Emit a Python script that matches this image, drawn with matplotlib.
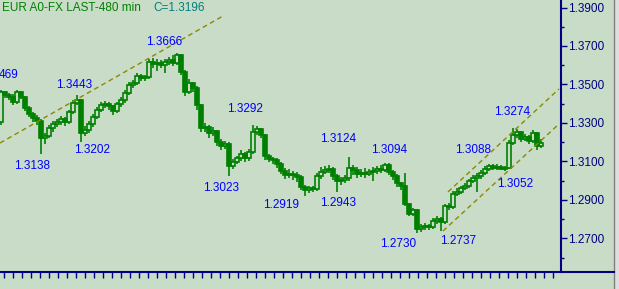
import numpy as np
import matplotlib
matplotlib.use('Agg')
from matplotlib import pyplot as plt
from matplotlib.patches import Rectangle

plot_filename = 'out.png'

W, H = 619, 289
bg = '#c8dcc8'
green = '#008000'
navy = '#000080'

title = 'EUR A0-FX LAST-480 min'
last_label = 'C=1.3196'

first_open = 1.3305
closes = [
    1.3461, 1.3445, 1.3435, 1.3409, 1.3461, 1.3435, 1.3377, 1.3346, 1.3325, 1.3310,
    1.3221, 1.3232, 1.3273, 1.3294, 1.3305, 1.3320, 1.3305, 1.3357, 1.3403, 1.3419,
    1.3247, 1.3263, 1.3294, 1.3331, 1.3367, 1.3393, 1.3398, 1.3388, 1.3362, 1.3398,
    1.3419, 1.3455, 1.3497, 1.3507, 1.3544, 1.3533, 1.3539, 1.3617, 1.3606, 1.3611,
    1.3601, 1.3617, 1.3627, 1.3611, 1.3653, 1.3565, 1.3461, 1.3507, 1.3481, 1.3393,
    1.3273, 1.3279, 1.3247, 1.3258, 1.3201, 1.3180, 1.3190, 1.3076, 1.3097, 1.3117,
    1.3138, 1.3117, 1.3149, 1.3253, 1.3268, 1.3237, 1.3128, 1.3112, 1.3107, 1.3086,
    1.3050, 1.3029, 1.3034, 1.3029, 1.3019, 1.2967, 1.2951, 1.2961, 1.2956, 1.3024,
    1.3045, 1.3055, 1.3060, 1.3024, 1.2998, 1.3003, 1.3013, 1.3065, 1.3055, 1.3034,
    1.3039, 1.3034, 1.3045, 1.3050, 1.3060, 1.3055, 1.3081, 1.3045, 1.3024, 1.2987,
    1.2972, 1.2878, 1.2826, 1.2847, 1.2748, 1.2759, 1.2764, 1.2759, 1.2790, 1.2800,
    1.2785, 1.2868, 1.2863, 1.2930, 1.2941, 1.2961, 1.2972, 1.2998, 1.3013, 1.3024,
    1.3039, 1.3060, 1.3076, 1.3066, 1.3071, 1.3060, 1.3066, 1.3195, 1.3237, 1.3253,
    1.3216, 1.3227, 1.3206, 1.3247, 1.3180, 1.3196,
]
highs = [
    1.3469, 1.3466, 1.3458, 1.3450, 1.3469, 1.3466, 1.3440, 1.3390, 1.3355, 1.3340,
    1.3320, 1.3250, 1.3290, 1.3310, 1.3320, 1.3335, 1.3330, 1.3370, 1.3420, 1.3443,
    1.3425, 1.3285, 1.3310, 1.3345, 1.3385, 1.3410, 1.3415, 1.3410, 1.3395, 1.3410,
    1.3435, 1.3470, 1.3515, 1.3525, 1.3560, 1.3555, 1.3550, 1.3630, 1.3640, 1.3630,
    1.3625, 1.3635, 1.3645, 1.3655, 1.3666, 1.3660, 1.3575, 1.3530, 1.3515, 1.3490,
    1.3400, 1.3300, 1.3290, 1.3280, 1.3265, 1.3215, 1.3205, 1.3200, 1.3115, 1.3130,
    1.3160, 1.3150, 1.3165, 1.3292, 1.3285, 1.3275, 1.3245, 1.3140, 1.3125, 1.3120,
    1.3095, 1.3065, 1.3060, 1.3050, 1.3045, 1.3030, 1.2980, 1.2975, 1.2975, 1.3040,
    1.3070, 1.3075, 1.3080, 1.3070, 1.3035, 1.3020, 1.3030, 1.3124, 1.3080, 1.3070,
    1.3060, 1.3065, 1.3060, 1.3070, 1.3075, 1.3080, 1.3094, 1.3090, 1.3055, 1.3035,
    1.2995, 1.3040, 1.2885, 1.2860, 1.2855, 1.2775, 1.2780, 1.2775, 1.2805, 1.2815,
    1.2810, 1.2880, 1.2885, 1.2945, 1.2960, 1.2975, 1.2990, 1.3010, 1.3030, 1.3040,
    1.3055, 1.3075, 1.3088, 1.3085, 1.3085, 1.3080, 1.3075, 1.3210, 1.3274, 1.3270,
    1.3260, 1.3245, 1.3240, 1.3265, 1.3255, 1.3215,
]
lows = [
    1.3290, 1.3430, 1.3420, 1.3395, 1.3400, 1.3425, 1.3360, 1.3330, 1.3305, 1.3290,
    1.3138, 1.3190, 1.3220, 1.3255, 1.3280, 1.3290, 1.3285, 1.3295, 1.3345, 1.3395,
    1.3202, 1.3230, 1.3250, 1.3280, 1.3320, 1.3355, 1.3380, 1.3370, 1.3340, 1.3350,
    1.3385, 1.3405, 1.3445, 1.3480, 1.3495, 1.3520, 1.3520, 1.3530, 1.3585, 1.3570,
    1.3585, 1.3560, 1.3600, 1.3595, 1.3600, 1.3550, 1.3440, 1.3450, 1.3460, 1.3370,
    1.3255, 1.3255, 1.3220, 1.3235, 1.3180, 1.3160, 1.3165, 1.3023, 1.3060, 1.3085,
    1.3100, 1.3095, 1.3100, 1.3140, 1.3240, 1.3220, 1.3110, 1.3095, 1.3085, 1.3065,
    1.3035, 1.3010, 1.3015, 1.3005, 1.2995, 1.2950, 1.2919, 1.2935, 1.2940, 1.2945,
    1.3010, 1.3035, 1.3040, 1.3005, 1.2943, 1.2980, 1.2990, 1.3000, 1.3030, 1.3015,
    1.3020, 1.3015, 1.3025, 1.3000, 1.3035, 1.3040, 1.3045, 1.3030, 1.3005, 1.2970,
    1.2950, 1.2870, 1.2815, 1.2815, 1.2730, 1.2735, 1.2745, 1.2745, 1.2750, 1.2775,
    1.2737, 1.2775, 1.2850, 1.2855, 1.2920, 1.2930, 1.2950, 1.2960, 1.2990, 1.2940,
    1.3010, 1.3030, 1.3050, 1.3055, 1.3055, 1.3055, 1.3052, 1.3060, 1.3185, 1.3220,
    1.3200, 1.3205, 1.3190, 1.3195, 1.3160, 1.3170,
]

# swing labels: text and where it sits on the picture (pixels)
# the first one is the tail of 1.3469, cut by the left edge in the original
swing_labels = ['469', '1.3443', '1.3666', '1.3292', '1.3138', '1.3202', '1.3023',
                '1.2919', '1.3124', '1.3274', '1.2943', '1.3094', '1.3088', '1.3052',
                '1.2730', '1.2737']
swing_pos = [(9, 75), (74, 85), (164, 42), (245, 109), (32, 166), (92, 150), (221, 188),
             (281, 205), (338, 139), (512, 112), (338, 203), (389, 150), (473, 150),
             (515, 184), (398, 244), (458, 241)]

# trendlines (candle index, price)
trend_lines = [
    [(-0.25, 1.3196), (55.5, 1.3856)],
    [(110.5, 1.2739), (139.5, 1.3295)],
    [(111.75, 1.2942), (139.5, 1.3477)],
]

y_ticks = [1.27, 1.29, 1.31, 1.33, 1.35, 1.37, 1.39]
y_minor = [1.26, 1.28, 1.30, 1.32, 1.34, 1.36, 1.38]

plt.rcParams['font.family'] = ['Liberation Sans', 'DejaVu Sans']

opens = [first_open] + closes[:-1]
idx = np.arange(len(closes))
o = np.array(opens)
c = np.array(closes)
up = c >= o

fig = plt.figure(figsize=(W / 100, H / 100), dpi=100, facecolor=bg)

ax_bottom = 271.7
ax_right = 560.7
ax = fig.add_axes([0, 1 - ax_bottom / H, ax_right / W, ax_bottom / H])
ax.set_facecolor(bg)

# wicks
ax.vlines(idx, lows, highs, color=green, lw=1.2)
# bodies: hollow up candles, filled down candles
body_w = 0.8
ax.bar(idx[up], (c - o)[up], bottom=o[up], width=body_w,
       facecolor=bg, edgecolor=green, lw=1.2, zorder=3)
ax.bar(idx[~up], (o - c)[~up], bottom=c[~up], width=body_w,
       facecolor=green, edgecolor=green, lw=1.2, zorder=3)

for (x0, y0), (x1, y1) in trend_lines:
    ax.plot([x0, x1], [y0, y1], color='#8a8a00', lw=1.0, ls=(0, (3.5, 2.5)), zorder=4)

ax.set_xlim(-0.25, (ax_right - 1) / 4)
ax.set_ylim(1.39 - (ax_bottom - 7.5) / 1925, 1.39 + 7.5 / 1925)

for s in ['top', 'left', 'bottom']:
    ax.spines[s].set_visible(False)
ax.spines['right'].set_color(navy)
ax.spines['right'].set_linewidth(1.5)
ax.set_xticks([])
ax.yaxis.tick_right()
ax.set_yticks(y_ticks)
ax.set_yticks(y_minor, minor=True)
ax.set_yticklabels([f'{v:.4f}' for v in y_ticks])
ax.tick_params(axis='y', which='major', direction='out', length=4, width=1.0,
               color=navy, labelcolor=navy, labelsize=8.5, pad=1.5)
ax.tick_params(axis='y', which='minor', direction='out', length=2.5, width=1.0, color=navy)

# overlay in pixel coords for the frame pieces
ov = fig.add_axes([0, 0, 1, 1], facecolor='none')
ov.set_xlim(0, W)
ov.set_ylim(H, 0)
ov.axis('off')
ov.add_patch(Rectangle((614, 0), W - 614, H, facecolor='#dedede', edgecolor='none'))
ov.plot([614, 614], [0, H], color='#808080', lw=1.0)
ov.plot([0, 614], [ax_bottom, ax_bottom], color=navy, lw=1.5)
ov.vlines(np.arange(4.3, 560, 9), ax_bottom, ax_bottom + 6.5, color=navy, lw=1.0)

ov.text(2, 8, title, color=green, fontsize=8.5, ha='left', va='center')
ov.text(153, 8, last_label, color='#008080', fontsize=8.5, ha='left', va='center')

for lab, (px, py) in zip(swing_labels, swing_pos):
    ov.text(px, py, lab, color='#0000ff', fontsize=8.5, ha='center', va='center')

plt.savefig(plot_filename, dpi=100, facecolor=bg)
